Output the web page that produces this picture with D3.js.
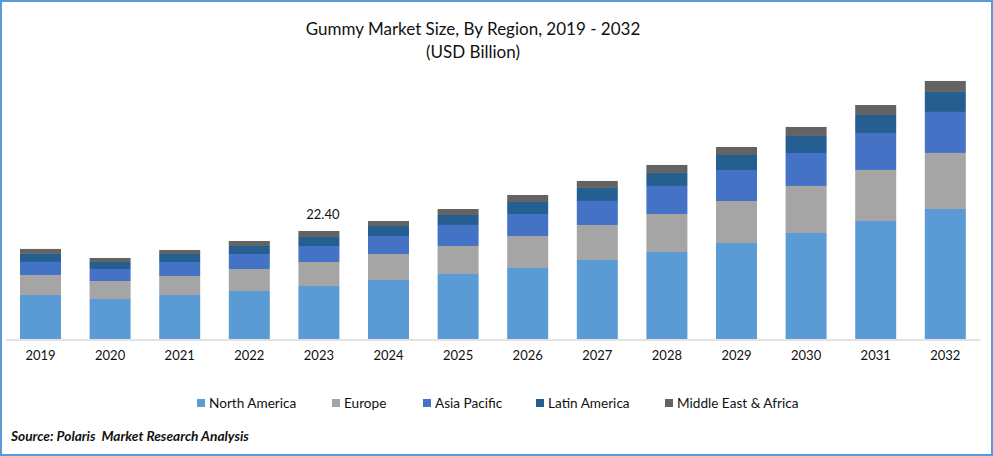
<!DOCTYPE html>
<html>
<head>
<meta charset="utf-8">
<script src="https://cdn.jsdelivr.net/npm/d3@7"></script>
<style>
    html, body { margin: 0; padding: 0; background: #fff; }
    svg { display: block; font-family: Lato, sans-serif; }
</style>
</head>
<body>
<div id="graph"></div>
<script>
// values, USD billion
const years = ["2019","2020","2021","2022","2023","2024","2025","2026","2027","2028","2029","2030","2031","2032"];
const regions = ["North America","Europe","Asia Pacific","Latin America","Middle East & Africa"];
const northAmerica = [9.13,8.30,9.13,9.96,10.99,12.24,13.48,14.73,16.39,18.05,19.91,21.99,24.48,26.97];
const europe = [4.15,3.73,3.94,4.56,4.98,5.39,5.81,6.64,7.26,7.88,8.71,9.75,10.58,11.62];
const asiaPacific = [2.70,2.49,2.90,3.11,3.32,3.73,4.36,4.56,4.98,5.81,6.43,6.84,7.67,8.50];
const latinAmerica = [1.66,1.45,1.66,1.66,1.87,2.07,2.07,2.49,2.70,2.70,3.11,3.53,3.73,4.15];
const middleEast = [1.04,0.83,0.83,1.04,1.24,1.04,1.24,1.45,1.45,1.66,1.66,1.87,2.07,2.28];
const colors = ["#5b9bd5","#a5a5a5","#4472c4","#255e91","#636363"];
const legendX = [197,332,423,536,665];
const labelYear = "2023";
const labelText = "22.40";

const width = 993, height = 456;
const svg = d3.select("#graph").append("svg")
    .attr("width", width)
    .attr("height", height);

// frame
svg.append("rect")
    .attr("x", 1).attr("y", 1)
    .attr("width", width - 2).attr("height", height - 2)
    .attr("fill", "#fff")
    .attr("stroke", "#5b9bd5")
    .attr("stroke-width", 2);

// title
svg.append("text")
    .attr("x", 473).attr("y", 35)
    .attr("text-anchor", "middle")
    .attr("font-size", 17)
    .attr("fill", "#111")
    .text("Gummy Market Size, By Region, 2019 - 2032");
svg.append("text")
    .attr("x", 473).attr("y", 58)
    .attr("text-anchor", "middle")
    .attr("font-size", 17)
    .attr("fill", "#111")
    .text("(USD Billion)");

var x = d3.scaleBand()
    .domain(years)
    .range([5.7, 980.1])
    .paddingInner(0.411)
    .paddingOuter(0.2055);
var y = d3.scaleLinear()
    .domain([0, 56])
    .range([339, 69]);

const rows = years.map((yr, i) => ({
    year: yr,
    "North America": northAmerica[i],
    "Europe": europe[i],
    "Asia Pacific": asiaPacific[i],
    "Latin America": latinAmerica[i],
    "Middle East & Africa": middleEast[i]
}));
const stacked = d3.stack().keys(regions)(rows);

svg.append("g")
    .selectAll("g")
    .data(stacked)
    .enter()
    .append("g")
    .attr("fill", (d, i) => colors[i])
    .selectAll("rect")
    .data(d => d)
    .enter()
    .append("rect")
    .attr("x", d => x(d.data.year))
    .attr("y", d => y(d[1]))
    .attr("width", x.bandwidth())
    .attr("height", d => y(d[0]) - y(d[1]));

// x axis
const axis = svg.append("g")
    .attr("transform", "translate(0,339.5)")
    .call(d3.axisBottom(x).tickSize(0).tickPadding(11));
axis.select(".domain").attr("stroke", "#d9d9d9").attr("stroke-width", 1.5);
axis.selectAll("text")
    .attr("font-family", "Lato, sans-serif")
    .attr("font-size", 13)
    .attr("fill", "#111");

// the one data label
const labelIdx = years.indexOf(labelYear);
svg.append("text")
    .attr("x", x(labelYear) + x.bandwidth() / 2 + 4)
    .attr("y", y(d3.sum(stacked, s => s[labelIdx][1] - s[labelIdx][0])) - 12)
    .attr("text-anchor", "middle")
    .attr("font-size", 13)
    .attr("fill", "#111")
    .text(labelText);

// legend
const legend = svg.append("g")
    .selectAll("g")
    .data(regions)
    .enter()
    .append("g")
    .attr("transform", (d, i) => "translate(" + legendX[i] + ",399)");
legend.append("rect")
    .attr("width", 8)
    .attr("height", 8)
    .attr("fill", (d, i) => colors[i]);
legend.append("text")
    .attr("x", 12)
    .attr("y", 8.5)
    .attr("font-size", 13.6)
    .attr("fill", "#111")
    .text(d => d);

// source
svg.append("text")
    .attr("x", 11).attr("y", 441)
    .attr("font-size", 13.7)
    .attr("font-weight", "bold")
    .attr("font-style", "italic")
    .attr("fill", "#111")
    .attr("xml:space", "preserve")
    .text("Source: Polaris  Market Research Analysis");
</script>
</body>
</html>
